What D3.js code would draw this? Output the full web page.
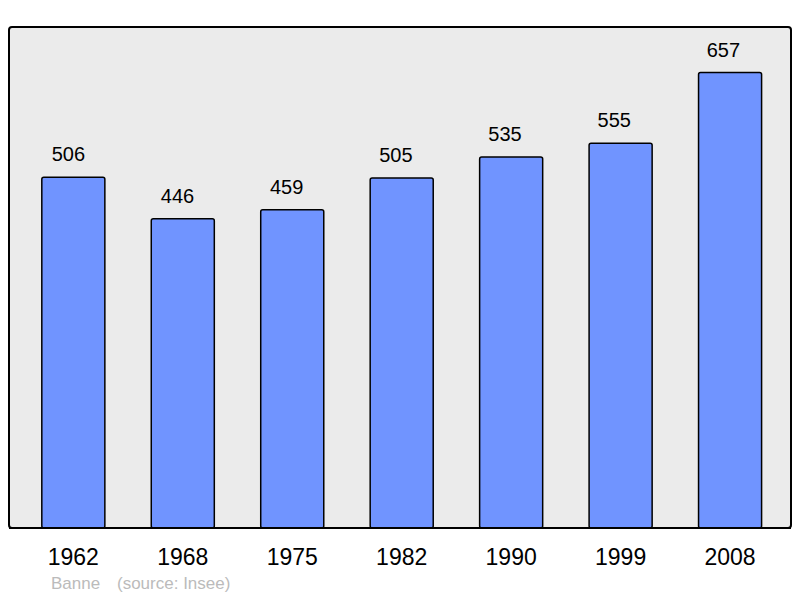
<!DOCTYPE html>
<html><head><meta charset="utf-8">
<script src="https://cdn.jsdelivr.net/npm/d3@7"></script>
<style>html,body{margin:0;padding:0;background:#fff;}svg{display:block;}</style>
</head><body>
<script>
const years = ["1962","1968","1975","1982","1990","1999","2008"];
const population = [506,446,459,505,535,555,657];
const commune = "Banne";
const source = "(source: Insee)";

const W = 800, H = 598;
const svg = d3.select("body").append("svg").attr("width", W).attr("height", H);
const frame = {x0: 9, y0: 27, x1: 791, y1: 528};

svg.append("rect").attr("x", frame.x0).attr("y", frame.y0)
  .attr("width", frame.x1 - frame.x0).attr("height", frame.y1 - frame.y0)
  .attr("rx", 3).attr("fill", "#ebebeb").attr("stroke", "#000").attr("stroke-width", 2);

const x = d3.scaleBand().domain(years).range([18.6, 784.8]).paddingInner(0.424).paddingOuter(0.212);
const y = d3.scaleLinear().domain([0, d3.max(population) * 1.1]).range([frame.y1, frame.y0]);

const data = years.map((yr, i) => ({yr, v: population[i], i}));

svg.selectAll("rect.bar").data(data).enter().append("rect").attr("class", "bar")
  .attr("x", d => x(d.yr)).attr("y", d => y(d.v))
  .attr("width", x.bandwidth()).attr("height", d => y(0) - y(d.v))
  .attr("rx", 2).attr("fill", "#7094ff").attr("stroke", "#000").attr("stroke-width", 1.5);

svg.append("line").attr("x1", frame.x0).attr("x2", frame.x1).attr("y1", frame.y1).attr("y2", frame.y1)
  .attr("stroke", "#000").attr("stroke-width", 2);

svg.selectAll("text.val").data(data).enter().append("text").attr("class", "val")
  .attr("x", d => x(d.yr) + x.bandwidth() / 2 - 5 - d.i * 0.28).attr("y", d => y(d.v) - 16)
  .attr("text-anchor", "middle").attr("font-family", "Liberation Sans, Arial, sans-serif")
  .attr("font-size", 20).attr("fill", "#000").text(d => d.v);

const xAxis = d3.axisBottom(x).tickSize(0).tickPadding(0);
const gx = svg.append("g").attr("transform", `translate(0,${frame.y1})`).call(xAxis);
gx.select(".domain").remove();
gx.selectAll("text").attr("font-family", "Liberation Sans, Arial, sans-serif")
  .attr("font-size", 23).attr("fill", "#000").attr("dy", null).attr("y", 37);

svg.append("text").attr("x", 51).attr("y", 589)
  .attr("font-family", "Liberation Sans, Arial, sans-serif").attr("font-size", 17)
  .attr("fill", "#bbbbbb").text(commune);
svg.append("text").attr("x", 117).attr("y", 589)
  .attr("font-family", "Liberation Sans, Arial, sans-serif").attr("font-size", 17)
  .attr("fill", "#bbbbbb").text(source);
</script>
</body></html>
